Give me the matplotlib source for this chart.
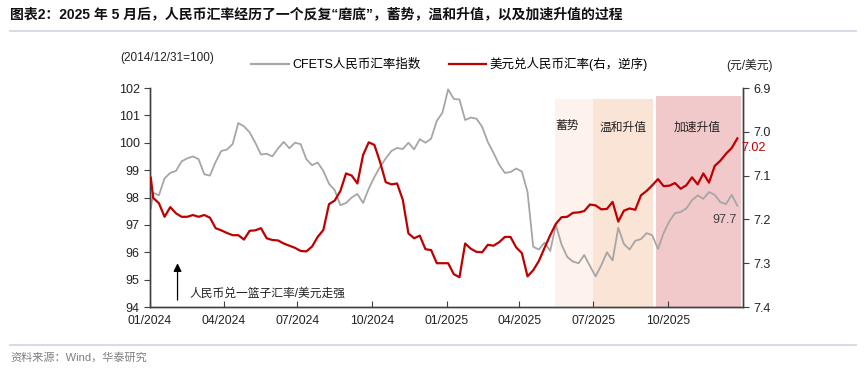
import matplotlib
matplotlib.use('Agg')
import matplotlib.pyplot as plt
import matplotlib.dates as mdates
from matplotlib.lines import Line2D
import pandas as pd

plt.rcParams['font.family'] = ['Liberation Sans', 'Noto Sans CJK SC', 'DejaVu Sans']

# weekly readings (Fridays), plus the first trading day
dates = pd.to_datetime(['2024-01-02']).append(
    pd.date_range('2024-01-05', periods=104, freq='W-FRI'))

cfets = [97.6,
         98.17, 98.08, 98.7, 98.9, 98.97, 99.32, 99.43, 99.5, 99.4, 98.85,
         98.8, 99.3, 99.7, 99.75, 99.95, 100.72, 100.6, 100.38, 100.0, 99.57,
         99.6, 99.5, 99.79, 100.03, 99.8, 100.0, 99.95, 99.4, 99.18, 99.28,
         98.97, 98.5, 98.27, 97.72, 97.8, 98.0, 98.13, 97.8, 98.32, 98.75,
         99.12, 99.43, 99.7, 99.81, 99.77, 100.0, 99.76, 100.13, 100.0, 100.15,
         100.8, 101.1, 101.95, 101.6, 101.58, 100.83, 100.92, 100.88, 100.58, 100.03,
         99.63, 99.2, 98.9, 98.93, 99.06, 98.95, 98.2, 96.2, 96.1, 96.35,
         96.05, 97.0, 96.28, 95.83, 95.66, 95.6, 95.9, 95.5, 95.12, 95.52,
         96.0, 95.7, 96.9, 96.3, 96.1, 96.42, 96.48, 96.7, 96.62, 96.12,
         96.7, 97.13, 97.43, 97.47, 97.6, 97.9, 98.08, 97.95, 98.2, 98.1,
         97.83, 97.76, 98.1, 97.7]

usdcny = [7.105,
          7.151, 7.163, 7.194, 7.172, 7.186, 7.194, 7.194, 7.19, 7.194, 7.19,
          7.196, 7.22, 7.225, 7.231, 7.236, 7.236, 7.246, 7.226, 7.225, 7.22,
          7.243, 7.247, 7.248, 7.255, 7.26, 7.265, 7.272, 7.273, 7.262, 7.24,
          7.224, 7.165, 7.157, 7.135, 7.095, 7.1, 7.118, 7.053, 7.024, 7.03,
          7.069, 7.115, 7.12, 7.118, 7.155, 7.232, 7.243, 7.237, 7.268, 7.27,
          7.3, 7.3, 7.3, 7.325, 7.332, 7.255, 7.267, 7.274, 7.275, 7.258,
          7.26, 7.252, 7.24, 7.24, 7.264, 7.277, 7.33, 7.316, 7.295, 7.265,
          7.236, 7.21, 7.195, 7.194, 7.185, 7.184, 7.181, 7.166, 7.168, 7.177,
          7.176, 7.16, 7.205, 7.18, 7.175, 7.178, 7.145, 7.135, 7.122, 7.108,
          7.124, 7.123, 7.117, 7.13, 7.122, 7.104, 7.12, 7.095, 7.116, 7.078,
          7.066, 7.05, 7.037, 7.015]

x_ticks = ['2024-01-01', '2024-04-01', '2024-07-01', '2024-10-01',
           '2025-01-01', '2025-04-01', '2025-07-01', '2025-10-01']

# phases after May 2025
phase_names = ['蓄势', '温和升值', '加速升值']
phase_start = ['2025-05-15', '2025-07-01', '2025-09-16']
phase_end = ['2025-07-01', '2025-09-13', '2025-12-30']
phase_colors = ['#FDF2EC', '#FAE4D6', '#F2C9CB']
phase_label_x = ['2025-05-30', '2025-08-07', '2025-11-06']

grey = '#A6A6A6'
red = '#C00000'

fig = plt.figure(figsize=(8.65, 3.74), dpi=100)
ax = fig.add_axes([0.1734, 0.1791, 0.6856, 0.5856])
ax2 = ax.twinx()

for i in range(3):
    top = 101.7 if i == 2 else 101.6
    ax.fill_between([pd.Timestamp(phase_start[i]), pd.Timestamp(phase_end[i])], 94, top,
                    color=phase_colors[i], lw=0, zorder=0)
    ax.text(pd.Timestamp(phase_label_x[i]), 100.62 if i == 0 else 100.55, phase_names[i],
            ha='center', va='center', fontsize=8.5, color='#222222')

ax.plot(dates, cfets, color=grey, lw=1.3, zorder=2)
ax2.plot(dates, usdcny, color=red, lw=1.6, zorder=3)

ax.set_ylim(94, 102)
ax.set_yticks(range(94, 103))
ax2.set_ylim(7.4, 6.9)
ax2.set_yticks([6.9, 7.0, 7.1, 7.2, 7.3, 7.4])
ax2.set_yticklabels(['6.9', '7.0', '7.1', '7.2', '7.3', '7.4'])
ax.set_xlim(pd.Timestamp('2024-01-01'), pd.Timestamp('2026-01-02'))
ax.set_xticks(pd.to_datetime(x_ticks))
ax.xaxis.set_major_formatter(mdates.DateFormatter('%m/%Y'))

for a in (ax, ax2):
    a.spines['top'].set_visible(False)
    for s in ('left', 'right', 'bottom'):
        a.spines[s].set_color('#404040')
        a.spines[s].set_linewidth(1.0)
ax.tick_params(axis='y', labelsize=9, length=4, direction='out', colors='#404040', labelcolor='#222222')
ax2.tick_params(axis='y', labelsize=9, length=4, direction='out', colors='#404040', labelcolor='#222222')
ax.tick_params(axis='x', labelsize=8.7, length=4, direction='in', colors='#404040', labelcolor='#222222', pad=6)
ax.patch.set_visible(False)
ax2.patch.set_visible(False)
ax.set_zorder(0)
ax2.set_zorder(1)

# end labels
ax.text(pd.Timestamp('2025-12-10'), 97.18, '97.7', ha='center', va='center', fontsize=9, color='#404040')
ax2.text(pd.Timestamp('2025-12-31'), 7.036, '7.02', ha='left', va='center', fontsize=9, color=red,
         clip_on=False)

# arrow note
ax.annotate('', xy=(pd.Timestamp('2024-02-04'), 95.7), xytext=(pd.Timestamp('2024-02-04'), 94.15),
            arrowprops=dict(arrowstyle='-|>', color='black', lw=0.9, mutation_scale=12))
ax.text(pd.Timestamp('2024-02-19'), 94.5, '人民币兑一篮子汇率/美元走强', fontsize=8.5,
        va='center', ha='left', color='#222222')

# legend
handles = [Line2D([], [], color=grey, lw=1.6), Line2D([], [], color=red, lw=1.6)]
fig.legend(handles, ['CFETS人民币汇率指数', '美元兑人民币汇率(右，逆序)'], loc='center',
           bbox_to_anchor=(0.52, 0.829), ncol=2, frameon=False, fontsize=9,
           handlelength=3.0, handletextpad=0.3, columnspacing=2.2)
fig.text(0.139, 0.845, '(2014/12/31=100)', fontsize=8.5, ha='left', va='center', color='#222222')
fig.text(0.867, 0.826, '(元/美元)', fontsize=8.5, ha='center', va='center', color='#222222')

# title, rules and source
fig.text(0.012, 0.962, '图表2：2025 年 5 月后，人民币汇率经历了一个反复“磨底”，蓄势，温和升值，以及加速升值的过程',
         fontsize=10, fontweight='bold', ha='left', va='center', color='#111111')
fig.add_artist(Line2D([0.012, 0.99], [0.918, 0.918], color='#D5DCE6', lw=1.5))
fig.add_artist(Line2D([0.012, 0.99], [0.078, 0.078], color='#D5DCE6', lw=1.5))
fig.text(0.012, 0.045, '资料来源：Wind，华泰研究', fontsize=8, ha='left', va='center', color='#7F7F7F')

fig.savefig('out.png', dpi=100)
